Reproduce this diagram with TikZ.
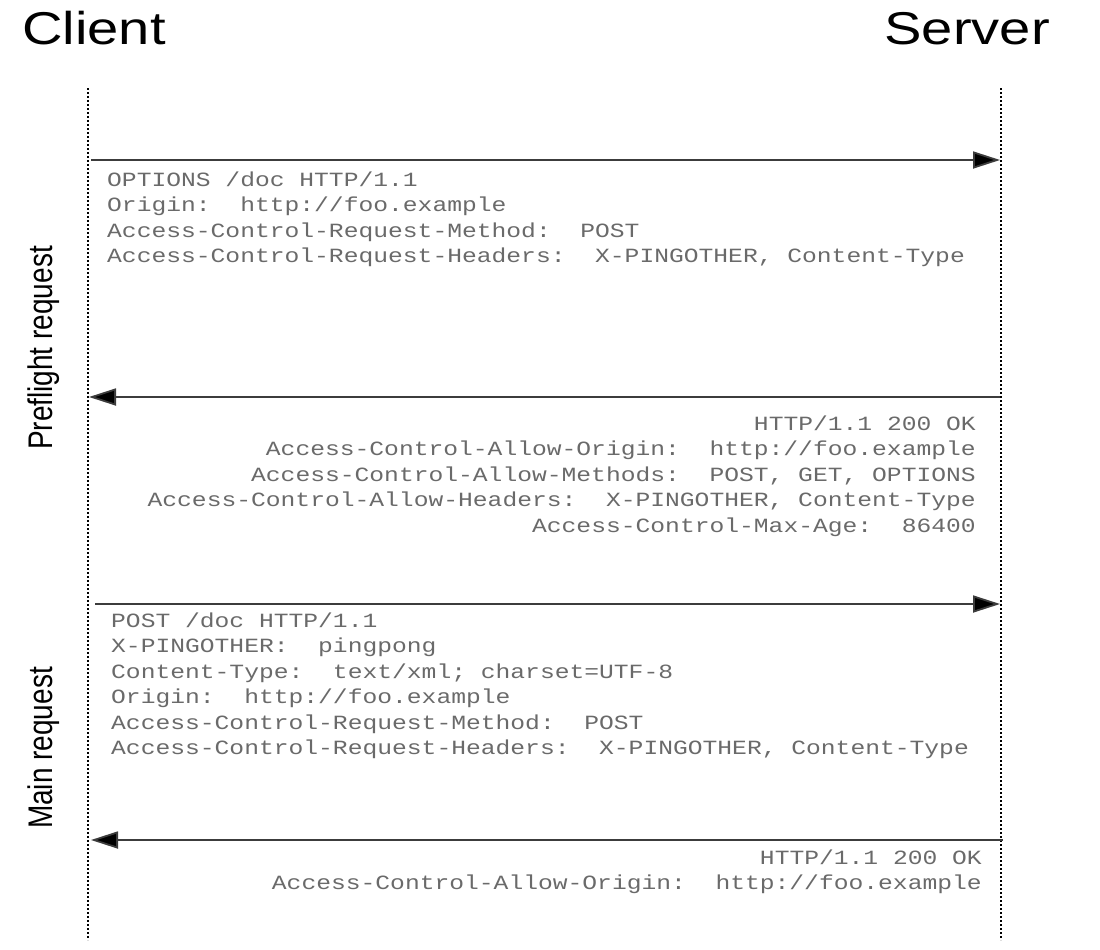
\documentclass[tikz,border=0pt]{standalone}
\usepackage{fontspec}
\setmainfont{Liberation Sans}
\newfontfamily\monofnt{Liberation Mono}
\usetikzlibrary{arrows.meta}
\definecolor{txtgray}{HTML}{6A6A6A}
\definecolor{linegray}{HTML}{3C3C3C}
\newcommand{\msg}[2]{\scalebox{1.22}[1]{\fontsize{20.2}{25.5}\selectfont\monofnt\begin{tabular}[t]{@{}#1@{}}#2\end{tabular}}}
\begin{document}
\begin{tikzpicture}[x=1pt,y=-1pt,
  lifeline/.style={line width=2.2pt, black, dash pattern=on 2.2pt off 1.8pt},
  message/.style={line width=1.8pt, linegray, -{Triangle[length=27pt,width=17pt,fill=black]}},
  title/.style={inner sep=0pt, font=\fontsize{46}{50}\selectfont},
  phase/.style={inner sep=0pt, rotate=90, font=\fontsize{28}{32}\selectfont},
  msgtext/.style={inner sep=0pt, text=txtgray}]
\useasboundingbox (0,0) rectangle (1100,950);

\node[title, anchor=base west] (client) at (22,45) {\scalebox{1.22}[1]{Client}};
\node[title, anchor=base east] (server) at (1050,45) {\scalebox{1.22}[1]{Server}};

\coordinate (ctop) at (88,88);
\coordinate (cbot) at (88,940);
\coordinate (stop) at (1001,88);
\coordinate (sbot) at (1001,940);
\draw[lifeline] (ctop) -- (cbot);
\draw[lifeline] (stop) -- (sbot);

\node[phase] (pre) at (44,348) {\scalebox{1}[1.22]{Preflight request}};
\node[phase] (main) at (44,748) {\scalebox{1}[1.22]{Main request}};

\coordinate (c1) at (91,160);  \coordinate (s1) at (1000,160);
\coordinate (s2) at (1000,397); \coordinate (c2) at (89,397);
\coordinate (c3) at (95,604);  \coordinate (s3) at (1000,604);
\coordinate (s4) at (1003,840); \coordinate (c4) at (91,840);

\draw[message] (c1) -- (s1);
\draw[message] (s2) -- (c2);
\draw[message] (c3) -- (s3);
\draw[message] (s4) -- (c4);

\node[msgtext, anchor=base west] (m1) at (107,186) {\msg{l}{%
OPTIONS /doc HTTP/1.1\\
Origin:~~http://foo.example\\
Access-Control-Request-Method:~~POST\\
Access-Control-Request-Headers:~~X-PINGOTHER, Content-Type}};

\node[msgtext, anchor=base east] (m2) at (976,430) {\msg{r}{%
HTTP/1.1 200 OK\\
Access-Control-Allow-Origin:~~http://foo.example\\
Access-Control-Allow-Methods:~~POST, GET, OPTIONS\\
Access-Control-Allow-Headers:~~X-PINGOTHER, Content-Type\\
Access-Control-Max-Age:~~86400}};

\node[msgtext, anchor=base west] (m3) at (111,627) {\msg{l}{%
POST /doc HTTP/1.1\\
X-PINGOTHER:~~pingpong\\
Content-Type:~~text/xml; charset=UTF-8\\
Origin:~~http://foo.example\\
Access-Control-Request-Method:~~POST\\
Access-Control-Request-Headers:~~X-PINGOTHER, Content-Type}};

\node[msgtext, anchor=base east] (m4) at (982,864) {\msg{r}{%
HTTP/1.1 200 OK\\
Access-Control-Allow-Origin:~~http://foo.example}};
\end{tikzpicture}
\end{document}
